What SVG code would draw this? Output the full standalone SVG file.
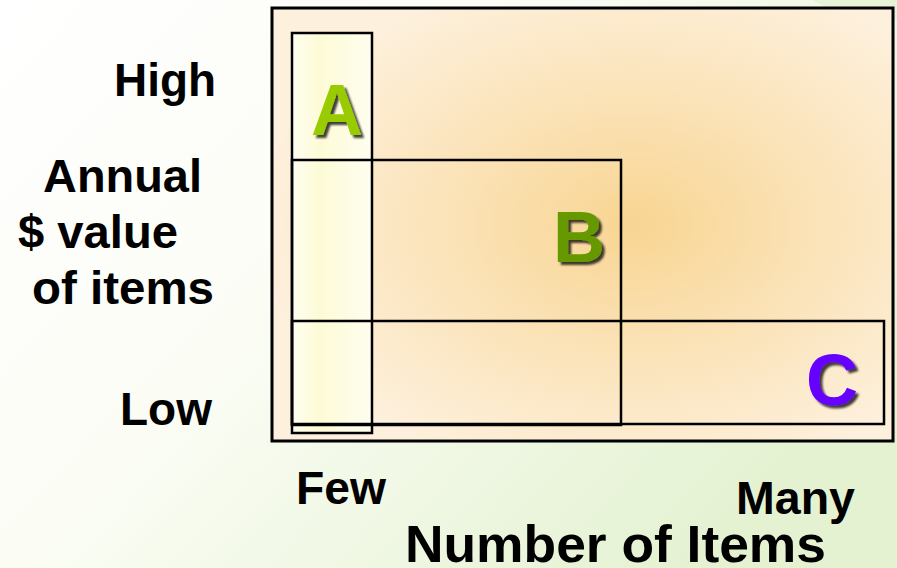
<svg xmlns="http://www.w3.org/2000/svg" width="897" height="568" viewBox="0 0 897 568">
<defs>
<style>
.lbl{font-family:"Liberation Sans",Arial,sans-serif;font-weight:bold;fill:#000;}
.box{fill:none;stroke:#000;stroke-width:2.5;}
.big{font-family:"Liberation Sans",Arial,sans-serif;font-weight:bold;font-size:72px;}
</style>
<linearGradient id="bg" x1="0" y1="0" x2="1" y2="0.6">
<stop offset="0" stop-color="#ffffff"/>
<stop offset="0.45" stop-color="#fbfdf5"/>
<stop offset="1" stop-color="#e4f2d2"/>
</linearGradient>
<radialGradient id="panel" cx="0.58" cy="0.5" r="0.6">
<stop offset="0" stop-color="#f8d592"/>
<stop offset="0.5" stop-color="#fbe3b8"/>
<stop offset="1" stop-color="#fdf0dc"/>
</radialGradient>
<linearGradient id="colA" x1="0" y1="0" x2="1" y2="0">
<stop offset="0" stop-color="#fefef0"/>
<stop offset="0.35" stop-color="#fdfbd6"/>
<stop offset="1" stop-color="#fefef0"/>
</linearGradient>
<filter id="sh" x="-20%" y="-20%" width="150%" height="150%">
<feGaussianBlur in="SourceAlpha" stdDeviation="1"/>
<feOffset dx="3" dy="3" result="o"/>
<feComponentTransfer><feFuncA type="linear" slope="0.75"/></feComponentTransfer>
<feMerge><feMergeNode/><feMergeNode in="SourceGraphic"/></feMerge>
</filter>
</defs>
<rect width="897" height="568" fill="url(#bg)"/>
<path d="M812 0 L897 0 L897 20 L850 20 Z" fill="#e2f1cf" opacity="0.7"/>
<g id="panel-area">
<rect x="272" y="8" width="621" height="433" fill="url(#panel)" stroke="#000" stroke-width="3"/>
</g>
<g id="region-A">
<rect x="292" y="33" width="80" height="400" class="box" style="fill:url(#colA)"/>
<text class="big" x="311" y="135" filter="url(#sh)" style="fill:#99cc00">A</text>
</g>
<g id="region-B">
<rect x="292" y="160" width="329" height="265" class="box"/>
<text class="big" x="553" y="262" style="fill:#669900" filter="url(#sh)">B</text>
</g>
<g id="region-C">
<rect x="292" y="321" width="592" height="103" class="box"/>
<text class="big" x="806" y="405" style="fill:#6600ff" filter="url(#sh)">C</text>
</g>
<g id="connectors"></g>
<g id="axis-y">
<text class="lbl" x="216" y="96" font-size="47" text-anchor="end" textLength="102" lengthAdjust="spacingAndGlyphs">High</text>
<text class="lbl" x="43" y="192" font-size="47" textLength="159" lengthAdjust="spacingAndGlyphs">Annual</text>
<text class="lbl" x="18" y="248" font-size="47" textLength="160" lengthAdjust="spacingAndGlyphs">$ value</text>
<text class="lbl" x="32" y="304" font-size="47" textLength="182" lengthAdjust="spacingAndGlyphs">of items</text>
<text class="lbl" x="120" y="425" font-size="47" textLength="92" lengthAdjust="spacingAndGlyphs">Low</text>
</g>
<g id="axis-x">
<text class="lbl" x="296" y="504" font-size="47" textLength="90" lengthAdjust="spacingAndGlyphs">Few</text>
<text class="lbl" x="736" y="514" font-size="47" textLength="119" lengthAdjust="spacingAndGlyphs">Many</text>
<text class="lbl" x="405" y="562" font-size="52" textLength="421" lengthAdjust="spacingAndGlyphs">Number of Items</text>
</g>
</svg>
